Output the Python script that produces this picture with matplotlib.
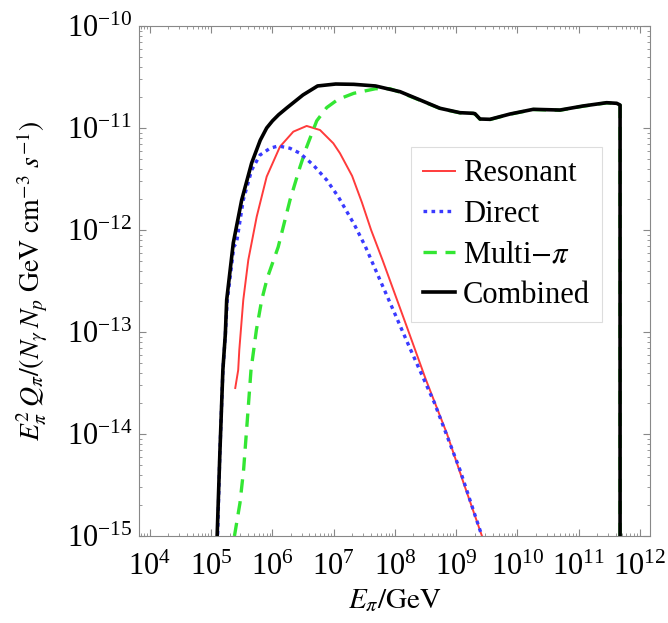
import numpy as np
import matplotlib
matplotlib.use("Agg")
import matplotlib.pyplot as plt
from matplotlib.ticker import LogLocator, NullFormatter

plt.rcParams['font.family'] = ['Liberation Serif', 'DejaVu Serif']
plt.rcParams['mathtext.fontset'] = 'stix'

# values, as log10(E / GeV) and log10(E^2 Q)
res_logE = [5.392, 5.44, 5.458, 5.523, 5.605, 5.742, 5.905, 6.122, 6.34, 6.558,
            6.776, 6.993, 7.102, 7.3, 7.46, 7.61, 7.8, 8.0, 8.2, 8.5,
            8.85, 9.12, 9.42]
res_logQ = [-13.549, -13.373, -13.176, -12.686, -12.294, -11.87, -11.477, -11.183,
            -11.036, -10.98, -11.02, -11.15, -11.248, -11.47, -11.73, -12.0,
            -12.3, -12.63, -12.96, -13.46, -14.0, -14.48, -15.0]

dir_logE = [5.09, 5.14, 5.19, 5.23, 5.26, 5.37, 5.412, 5.523, 5.66, 5.796, 5.959,
            6.095, 6.286, 6.449, 6.666, 6.885, 7.074, 7.339, 7.518, 7.755, 7.99,
            8.23, 8.645, 8.854, 9.06, 9.24, 9.42]
dir_logQ = [-15.3, -14.2, -13.38, -13.03, -12.7, -12.16, -12.13, -11.706, -11.412,
            -11.265, -11.199, -11.176, -11.199, -11.248, -11.363, -11.51, -11.674,
            -11.95, -12.164, -12.49, -12.81, -13.14, -13.696, -14.026, -14.35,
            -14.676, -15.0]

multi_logE = [5.379, 5.469, 5.528, 5.589, 5.649, 5.737, 5.824, 5.915, 6.093, 6.286,
              6.449, 6.558, 6.722, 6.885, 7.069, 7.327, 7.682, 7.918, 8.082, 8.408,
              8.735, 9.061, 9.278, 9.306, 9.388, 9.551, 9.878, 10.258, 10.694,
              11.074, 11.456, 11.62, 11.675, 11.675]
multi_logQ = [-15.0, -14.676, -14.353, -13.863, -13.373, -12.98, -12.686, -12.47,
              -12.167, -11.706, -11.382, -11.186, -10.93, -10.80, -10.72, -10.66,
              -10.615, -10.615, -10.65, -10.728, -10.809, -10.852, -10.858, -10.862,
              -10.914, -10.917, -10.865, -10.819, -10.826, -10.786, -10.754, -10.76,
              -10.777, -15.5]

comb_logE = [5.08, 5.14, 5.19, 5.23, 5.252, 5.36, 5.497, 5.66, 5.8, 5.905, 6.0,
             6.1, 6.232, 6.498, 6.736, 7.032, 7.327, 7.682, 8.082, 8.408, 8.735,
             9.061, 9.278, 9.306, 9.388, 9.551, 9.878, 10.258, 10.694, 11.074,
             11.456, 11.62, 11.675, 11.675]
comb_logQ = [-15.3, -14.2, -13.37, -13.02, -12.686, -12.127, -11.706, -11.343, -11.12,
             -11.0, -10.93, -10.87, -10.804, -10.676, -10.588, -10.569, -10.572,
             -10.588, -10.644, -10.725, -10.807, -10.85, -10.856, -10.86, -10.912,
             -10.915, -10.863, -10.817, -10.824, -10.784, -10.752, -10.758, -10.775,
             -15.5]

fig = plt.figure(figsize=(6.68, 6.23), dpi=100)
ax = fig.add_axes([0.2085, 0.1396, 0.7645, 0.8187])

def lin(v):
    return 10.0 ** np.array(v)

ax.plot(lin(res_logE), lin(res_logQ), color='#ff3b3b', lw=1.4, label='Resonant', zorder=2)
ax.plot(lin(multi_logE), lin(multi_logQ), color='#33e633', lw=2.4,
        linestyle=(0, (4, 2.6)), label=r'Multi$-\pi$', zorder=3)
ax.plot(lin(dir_logE), lin(dir_logQ), color='#3a3aff', lw=2.4,
        linestyle=(0, (1.1, 1.3)), label='Direct', zorder=4)
ax.plot(lin(comb_logE), lin(comb_logQ), color='black', lw=2.6, label='Combined', zorder=5)

ax.set_xscale('log')
ax.set_yscale('log')
ax.set_xlim(10 ** 3.825, 10 ** 12.163)
ax.set_ylim(1e-15, 1e-10)

ax.xaxis.set_major_locator(LogLocator(base=10, numticks=20))
ax.xaxis.set_minor_locator(LogLocator(base=10, subs=np.arange(2, 10), numticks=20))
ax.yaxis.set_major_locator(LogLocator(base=10, numticks=20))
ax.yaxis.set_minor_locator(LogLocator(base=10, subs=np.arange(2, 10), numticks=20))
ax.xaxis.set_minor_formatter(NullFormatter())
ax.yaxis.set_minor_formatter(NullFormatter())

ax.tick_params(which='both', direction='in', top=True, right=True, color='#888888',
               labelsize=22, labelcolor='black')
ax.tick_params(which='major', length=5, width=0.8, pad=5)
ax.tick_params(axis='x', which='major', pad=12)
ax.tick_params(which='minor', length=2.5, width=0.6)
for sp in ax.spines.values():
    sp.set_color('#888888')
    sp.set_linewidth(0.8)

ax.set_xlabel(r'$E_\pi/\mathrm{GeV}$', fontsize=21, labelpad=4)
ax.set_ylabel(r'$E_\pi^2\,Q_\pi/(N_\gamma\,N_p\ \mathrm{GeV\ cm}^{-3}\ s^{-1})$',
              fontsize=20, labelpad=12)

handles, labels = ax.get_legend_handles_labels()
order = [labels.index(n) for n in ['Resonant', 'Direct', r'Multi$-\pi$', 'Combined']]
leg = ax.legend([handles[i] for i in order], [labels[i] for i in order],
                loc='upper left', bbox_to_anchor=(411 / 668, 1 - 147 / 623),
                bbox_transform=fig.transFigure, borderaxespad=0, fontsize=22,
                fancybox=False, edgecolor='#dddddd', framealpha=1,
                handlelength=1.05, handletextpad=0.25, labelspacing=0.38,
                borderpad=0.4)
leg.get_frame().set_linewidth(0.8)

fig.savefig('out.png', dpi=100)
